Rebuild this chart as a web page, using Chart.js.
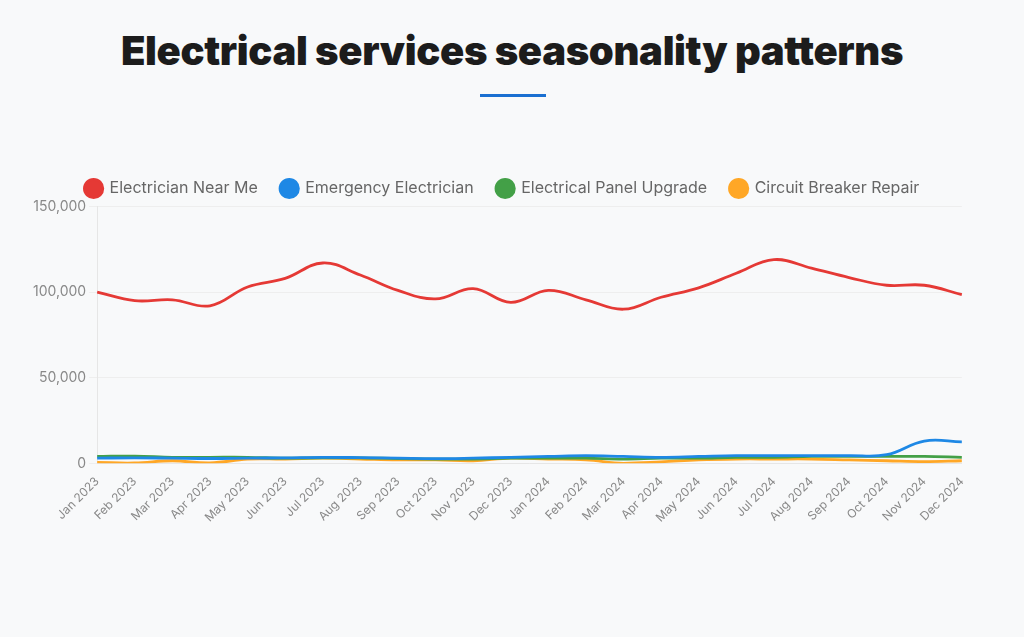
<!DOCTYPE html>
<html>
<head>
<meta charset="utf-8">
<script src="https://cdn.jsdelivr.net/npm/chart.js@4.4.1/dist/chart.umd.min.js"></script>
<style>
  html, body { margin: 0; padding: 0; background: #f8f9fa; }
  body { width: 1024px; height: 637px; position: relative; overflow: hidden; font-family: Inter, "Noto Sans", sans-serif; }
  h1 { position: absolute; top: 27px; left: 0; width: 1024px; margin: 0; text-align: center; line-height: 48px;
       font-size: 40px; font-weight: 900; letter-spacing: -0.35px; color: #1c1c1c; }
  .bar { position: absolute; left: 480px; top: 94px; width: 66px; height: 3px; background: #1a6fd1; }
  .wrap { position: absolute; left: 30px; top: 157px; width: 945px; height: 371px; }
</style>
</head>
<body>
<h1>Electrical services seasonality patterns</h1>
<div class="bar"></div>
<div class="wrap"><canvas id="seasonChart"></canvas></div>
<script>
var months = ['Jan 2023','Feb 2023','Mar 2023','Apr 2023','May 2023','Jun 2023','Jul 2023','Aug 2023','Sep 2023','Oct 2023','Nov 2023','Dec 2023',
              'Jan 2024','Feb 2024','Mar 2024','Apr 2024','May 2024','Jun 2024','Jul 2024','Aug 2024','Sep 2024','Oct 2024','Nov 2024','Dec 2024'];
var nearMe = [100000, 95000, 95500, 92000, 103000, 108000, 117000, 110000, 101000, 96000, 102000, 94000,
              101000, 95500, 90000, 97000, 102500, 111000, 119000, 114000, 108500, 104000, 104000, 98500];
var emergency = [3000, 3200, 3000, 2800, 3000, 3200, 3500, 3300, 3000, 2700, 3000, 3500,
                 4000, 4500, 4000, 3500, 4000, 4500, 4500, 4500, 4500, 5000, 13000, 12500];
var panel = [4000, 4200, 3500, 3500, 3500, 3000, 3200, 3200, 2800, 2500, 2500, 3000,
             3000, 3000, 2500, 3000, 3000, 3500, 3500, 4000, 4000, 4000, 4000, 3500];
var breaker = [500, 200, 1500, 200, 2500, 2500, 3000, 2500, 2000, 2000, 1500, 3000,
               2500, 2000, 0, 800, 2000, 2500, 2500, 2500, 2000, 1500, 1000, 1500];
var yTicks = [0, 50000, 100000, 150000];

function line(label, data, color) {
    return {
        label: label,
        data: data,
        borderColor: color,
        backgroundColor: color,
        borderWidth: 2.8,
        pointRadius: 0,
        tension: 0.4,
        fill: false
    };
}

var ctx = document.getElementById('seasonChart');
new Chart(ctx, {
    type: 'line',
    data: {
        labels: months,
        datasets: [
            line('Electrician Near Me', nearMe, '#e53935'),
            line('Emergency Electrician', emergency, '#1e88e5'),
            line('Electrical Panel Upgrade', panel, '#43a047'),
            line('Circuit Breaker Repair', breaker, '#ffa726')
        ]
    },
    options: {
        responsive: true,
        maintainAspectRatio: false,
        animation: false,
        plugins: {
            legend: {
                position: 'top',
                labels: {
                    usePointStyle: true,
                    pointStyle: 'circle',
                    boxHeight: 13,
                    color: '#666',
                    padding: 23.5,
                    font: { family: 'Inter', size: 16 }
                }
            },
            tooltip: { enabled: false }
        },
        scales: {
            x: {
                grid: { display: false },
                border: { color: '#e6e6e6' },
                ticks: { color: '#888', maxRotation: 45, minRotation: 45, font: { family: 'Inter', size: 12 } }
            },
            y: {
                min: 0,
                max: 150000,
                afterBuildTicks: function (axis) {
                    axis.ticks = yTicks.map(function (v) { return { value: v }; });
                },
                grid: { color: '#eeeeee' },
                border: { color: '#e6e6e6' },
                ticks: {
                    color: '#888',
                    font: { family: 'Inter', size: 14 },
                    callback: function (v) { return v.toLocaleString('en-US'); }
                }
            }
        }
    }
});
</script>
</body>
</html>
